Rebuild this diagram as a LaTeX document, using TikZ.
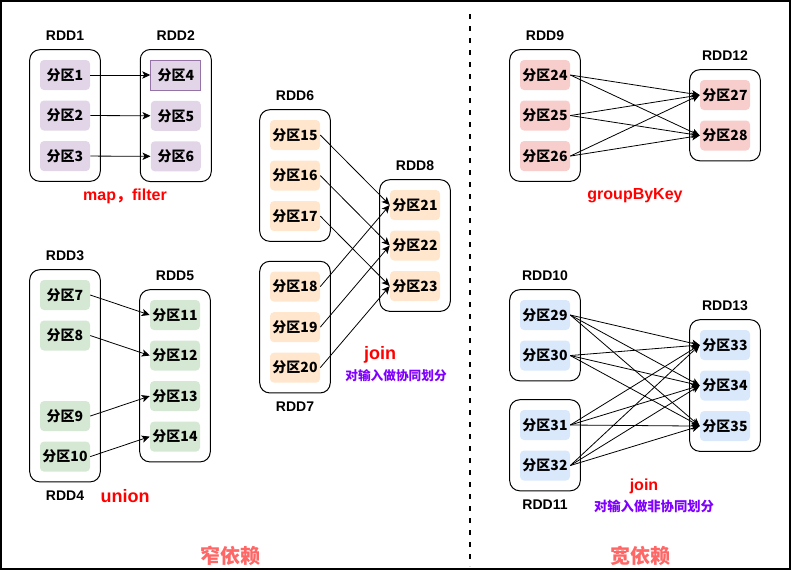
\documentclass[tikz,border=0pt]{standalone}
\usepackage{fontspec}
\setmainfont{Liberation Sans}
\newfontfamily\cjk{Noto Sans CJK SC}
\usepackage{xcolor}
\definecolor{purpleFill}{HTML}{E1D5E7}
\definecolor{purpleLine}{HTML}{9673A6}
\definecolor{greenFill}{HTML}{D5E8D4}
\definecolor{orangeFill}{HTML}{FFE6CC}
\definecolor{redFill}{HTML}{F8CECC}
\definecolor{blueFill}{HTML}{DAE8FC}
\definecolor{opRed}{HTML}{FF0000}
\definecolor{noteViolet}{HTML}{7F00FF}
\definecolor{depRed}{HTML}{FF6666}
\usepackage{tikz}
\usetikzlibrary{positioning,fit,arrows.meta}
\newcommand{\fq}[1]{{\cjk 分区#1}}
\tikzset{%
  partBox/.style={%
    rectangle,
    rounded corners=3pt,
    minimum width=37.5pt,
    minimum height=22.5pt,
    inner sep=0pt,
    font=\cjk\bfseries\fontsize{10.5}{12}\selectfont
  },
  rddBox/.style={%
    rectangle,
    rounded corners=7.5pt,
    draw=black,
    line width=0.75pt,
    inner sep=7.5pt
  },
  rddName/.style={%
    font=\bfseries\fontsize{10.5}{12}\selectfont
  },
  depArrow/.style={%
    -{Stealth[length=6pt,width=5.5pt,inset=1.5pt]},
    line width=0.6pt,
    color=black
  },
  opLabel/.style={%
    text=opRed,
    font=\bfseries\fontsize{12}{14}\selectfont
  },
  noteLabel/.style={%
    text=noteViolet,
    font=\cjk\bfseries\fontsize{9.5}{11}\selectfont
  },
  depTitle/.style={%
    text=depRed,
    font=\cjk\bfseries\fontsize{15}{17}\selectfont
  }
}

\begin{document}
\begin{tikzpicture}[x=0.75pt,y=-0.75pt]
  \useasboundingbox (0,0) rectangle (791,571);
  \draw[line width=1.5pt] (1,1) rectangle (789.5,569.3);
  \draw[line width=1.5pt, dash pattern=on 3.75pt off 5.25pt] (470,14) -- (470,566);

  % map, filter
  \node[partBox, fill=purpleFill] (p1) at (65,75) {\fq{1}};
  \node[partBox, fill=purpleFill, below=7.5pt of p1] (p2) {\fq{2}};
  \node[partBox, fill=purpleFill, below=7.5pt of p2] (p3) {\fq{3}};
  \node[partBox, fill=purpleFill, draw=purpleLine, line width=0.75pt, sharp corners, right=45pt of p1] (p4) {\fq{4}};
  \node[partBox, fill=purpleFill, below=7.5pt of p4] (p5) {\fq{5}};
  \node[partBox, fill=purpleFill, below=7.5pt of p5] (p6) {\fq{6}};
  \node[rddBox, fit=(p1)(p3)] (rdd1) {};
  \node[rddBox, fit=(p4)(p6)] (rdd2) {};
  \node[rddName, above=3pt of rdd1] (rdd1name) {RDD1};
  \node[rddName, above=3pt of rdd2] (rdd2name) {RDD2};
  \draw[depArrow] (p1.east) -- (p4.west);
  \draw[depArrow] (p2.east) -- (p5.west);
  \draw[depArrow] (p3.east) -- (p6.west);
  \node[opLabel] (mapop) at (125,196) {map{\cjk ，}filter};

  % union
  \node[partBox, fill=greenFill] (p7) at (65,295) {\fq{7}};
  \node[partBox, fill=greenFill, below=7.5pt of p7] (p8) {\fq{8}};
  \node[partBox, fill=greenFill, below=37.5pt of p8] (p9) {\fq{9}};
  \node[partBox, fill=greenFill, below=7.5pt of p9] (p10) {\fq{10}};
  \node[partBox, fill=greenFill] (p11) at (175,315) {\fq{11}};
  \node[partBox, fill=greenFill, below=7.5pt of p11] (p12) {\fq{12}};
  \node[partBox, fill=greenFill, below=7.5pt of p12] (p13) {\fq{13}};
  \node[partBox, fill=greenFill, below=7.5pt of p13] (p14) {\fq{14}};
  \node[rddBox, fit=(p7)(p10)] (rdd3) {};
  \node[rddBox, fit=(p11)(p14)] (rdd5) {};
  \node[rddName, above=3pt of rdd3] (rdd3name) {RDD3};
  \node[rddName, below=3pt of rdd3] (rdd4name) {RDD4};
  \node[rddName, above=3pt of rdd5] (rdd5name) {RDD5};
  \draw[depArrow] (p7.east) -- (p11.west);
  \draw[depArrow] (p8.east) -- (p12.west);
  \draw[depArrow] (p9.east) -- (p13.west);
  \draw[depArrow] (p10.east) -- (p14.west);
  \node[opLabel, font=\bfseries\fontsize{13.5}{15}\selectfont] (unionop) at (125,496) {union};

  % join, co-partitioned
  \node[partBox, fill=orangeFill] (p15) at (295,135) {\fq{15}};
  \node[partBox, fill=orangeFill, below=7.5pt of p15] (p16) {\fq{16}};
  \node[partBox, fill=orangeFill, below=7.5pt of p16] (p17) {\fq{17}};
  \node[partBox, fill=orangeFill, below=30pt of p17] (p18) {\fq{18}};
  \node[partBox, fill=orangeFill, below=7.5pt of p18] (p19) {\fq{19}};
  \node[partBox, fill=orangeFill, below=7.5pt of p19] (p20) {\fq{20}};
  \node[partBox, fill=orangeFill] (p21) at (415,205) {\fq{21}};
  \node[partBox, fill=orangeFill, below=7.5pt of p21] (p22) {\fq{22}};
  \node[partBox, fill=orangeFill, below=7.5pt of p22] (p23) {\fq{23}};
  \node[rddBox, fit=(p15)(p17)] (rdd6) {};
  \node[rddBox, fit=(p18)(p20)] (rdd7) {};
  \node[rddBox, fit=(p21)(p23)] (rdd8) {};
  \node[rddName, above=3pt of rdd6] (rdd6name) {RDD6};
  \node[rddName, below=3pt of rdd7] (rdd7name) {RDD7};
  \node[rddName, above=3pt of rdd8] (rdd8name) {RDD8};
  \draw[depArrow] (p15.east) -- (p21.west);
  \draw[depArrow] (p16.east) -- (p22.west);
  \draw[depArrow] (p17.east) -- (p23.west);
  \draw[depArrow] (p18.east) -- (p21.west);
  \draw[depArrow] (p19.east) -- (p22.west);
  \draw[depArrow] (p20.east) -- (p23.west);
  \node[opLabel, font=\bfseries\fontsize{13.5}{15}\selectfont] (joinop) at (380,355) {join};
  \node[noteLabel] (joinnote) at (396,376) {对输入做协同划分};

  % groupByKey
  \node[partBox, fill=redFill] (p24) at (545,75) {\fq{24}};
  \node[partBox, fill=redFill, below=7.5pt of p24] (p25) {\fq{25}};
  \node[partBox, fill=redFill, below=7.5pt of p25] (p26) {\fq{26}};
  \node[partBox, fill=redFill] (p27) at (725,95) {\fq{27}};
  \node[partBox, fill=redFill, below=7.5pt of p27] (p28) {\fq{28}};
  \node[rddBox, fit=(p24)(p26)] (rdd9) {};
  \node[rddBox, fit=(p27)(p28)] (rdd12) {};
  \node[rddName, above=3pt of rdd9] (rdd9name) {RDD9};
  \node[rddName, above=3pt of rdd12] (rdd12name) {RDD12};
  \foreach \s in {24,25,26}
    \foreach \t in {27,28}
      \draw[depArrow] (p\s.east) -- (p\t.west);
  \node[opLabel] (groupop) at (635,196) {groupByKey};

  % join, not co-partitioned
  \node[partBox, fill=blueFill] (p29) at (545,315) {\fq{29}};
  \node[partBox, fill=blueFill, below=7.5pt of p29] (p30) {\fq{30}};
  \node[partBox, fill=blueFill] (p31) at (545,425) {\fq{31}};
  \node[partBox, fill=blueFill, below=7.5pt of p31] (p32) {\fq{32}};
  \node[partBox, fill=blueFill] (p33) at (725,345) {\fq{33}};
  \node[partBox, fill=blueFill, below=7.5pt of p33] (p34) {\fq{34}};
  \node[partBox, fill=blueFill, below=7.5pt of p34] (p35) {\fq{35}};
  \node[rddBox, fit=(p29)(p30)] (rdd10) {};
  \node[rddBox, fit=(p31)(p32)] (rdd11) {};
  \node[rddBox, fit=(p33)(p35)] (rdd13) {};
  \node[rddName, above=3pt of rdd10] (rdd10name) {RDD10};
  \node[rddName, below=3pt of rdd11] (rdd11name) {RDD11};
  \node[rddName, above=3pt of rdd13] (rdd13name) {RDD13};
  \foreach \s in {29,30,31,32}
    \foreach \t in {33,34,35}
      \draw[depArrow] (p\s.east) -- (p\t.west);
  \node[opLabel] (joinop2) at (644,486) {join};
  \node[noteLabel, font=\cjk\bfseries\fontsize{10}{12}\selectfont] (joinnote2) at (654,506) {对输入做非协同划分};

  % titles
  \node[depTitle] (narrow) at (230,556) {窄依赖};
  \node[depTitle] (wide) at (640,556) {宽依赖};
\end{tikzpicture}
\end{document}
